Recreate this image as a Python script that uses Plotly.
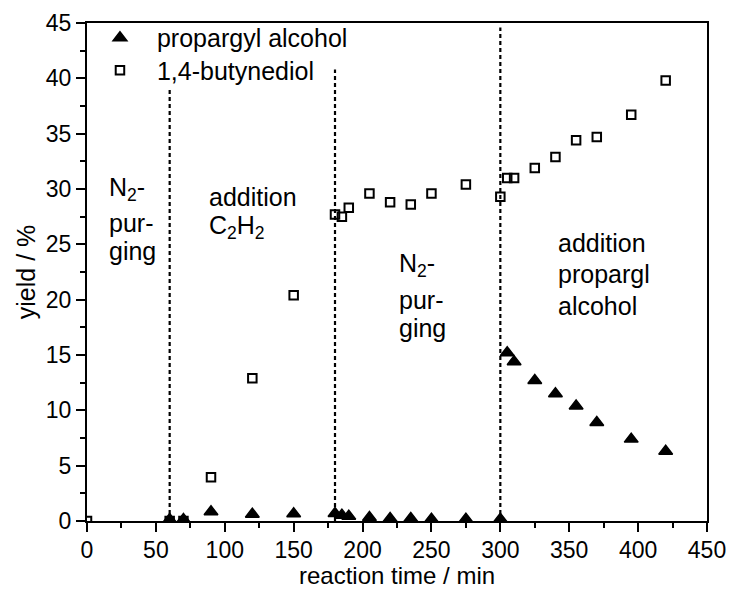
import plotly.graph_objects as go

# reaction time (min) and yields (%)
time_pa = [60, 70, 90, 120, 150, 180, 185, 190, 205, 220, 235, 250, 275, 300,
           305, 310, 325, 340, 355, 370, 395, 420]
yield_pa = [0.13, 0.13, 0.83, 0.62, 0.65, 0.68, 0.53, 0.44, 0.32, 0.23, 0.23, 0.17, 0.17, 0.17,
            15.2, 14.4, 12.7, 11.5, 10.4, 8.9, 7.4, 6.3]

time_bd = [0, 60, 70, 90, 120, 150, 180, 185, 190, 205, 220, 235, 250, 275, 300,
           305, 310, 325, 340, 355, 370, 395, 420]
yield_bd = [0, 0, 0, 3.95, 12.9, 20.4, 27.7, 27.5, 28.3, 29.6, 28.8, 28.6, 29.6, 30.4, 29.3,
            31.0, 31.0, 31.9, 32.9, 34.4, 34.7, 36.7, 39.8]

# phase boundaries (min) and how far up each marker line reaches (%)
phase_x = [60, 180, 300]
phase_top = [39.1, 40.8, 44.6]

# phase labels: x position (min), lines of text, y of each line (%)
phase_label_x = [14.5, 86.9, 224.7, 340.3]
phase_label_lines = [
    ["N<sub>2</sub>-", "pur-", "ging"],
    ["addition", "C<sub>2</sub>H<sub>2</sub>"],
    ["N<sub>2</sub>-", "pur-", "ging"],
    ["addition", "propargl", "alcohol"],
]
phase_label_y = [
    [30.0, 26.9, 24.4],
    [29.3, 26.6],
    [23.1, 20.0, 17.4],
    [25.1, 22.3, 19.4],
]

FONT = "Liberation Sans, Arial, sans-serif"
FS = 25
TICK_FS = 23
XTITLE_FS = 24

fig = go.Figure()
fig.add_trace(go.Scatter(
    x=time_pa, y=yield_pa, mode="markers", name="propargyl alcohol", legend="legend",
    marker=dict(symbol="triangle-up", size=12, color="black",
                line=dict(color="black", width=1.5)),
))
fig.add_trace(go.Scatter(
    x=time_bd, y=yield_bd, mode="markers", name="1,4-butynediol", legend="legend2",
    marker=dict(symbol="square-open", size=8.5, color="black",
                line=dict(color="black", width=2)),
))

for xv, top in zip(phase_x, phase_top):
    fig.add_shape(type="line", x0=xv, x1=xv, y0=0, y1=top, xref="x", yref="y",
                  line=dict(color="black", width=2.2, dash="4px,3px"), layer="below")

for xv, lines, ys in zip(phase_label_x, phase_label_lines, phase_label_y):
    for txt, yv in zip(lines, ys):
        fig.add_annotation(x=xv, y=yv, text=txt, showarrow=False, xanchor="left",
                           yanchor="middle", font=dict(family=FONT, size=FS, color="black"))

# x-axis title, resting on the bottom edge of the figure
fig.add_annotation(x=0.5, y=-70 / 498, xref="paper", yref="paper", text="reaction time / min",
                   showarrow=False, xanchor="center", yanchor="bottom",
                   font=dict(family=FONT, size=XTITLE_FS, color="black"))

axis_common = dict(
    showline=True, linecolor="black", linewidth=2, mirror=True,
    ticks="outside", ticklen=9, tickwidth=2, tickcolor="black",
    showgrid=False, zeroline=False, automargin=False,
    tickfont=dict(family=FONT, size=TICK_FS, color="black"),
)

fig.update_xaxes(
    range=[0, 450], dtick=50, tick0=0, ticklabelstandoff=-2,
    minor=dict(ticks="outside", ticklen=5, tickwidth=2, tickcolor="black", dtick=25, showgrid=False),
    **axis_common,
)
fig.update_yaxes(
    range=[0, 45], dtick=5, tick0=0,
    minor=dict(ticks="outside", ticklen=5, tickwidth=2, tickcolor="black", dtick=2.5, showgrid=False),
    title=dict(text="yield / %", font=dict(family=FONT, size=FS, color="black"), standoff=3),
    **axis_common,
)

legend_common = dict(
    xanchor="left", yanchor="middle", bgcolor="rgba(0,0,0,0)", borderwidth=0,
    font=dict(family=FONT, size=FS, color="black"), itemwidth=64,
)

fig.update_layout(
    width=731, height=591,
    margin=dict(l=87, r=24, t=23, b=70),
    plot_bgcolor="white", paper_bgcolor="white",
    font=dict(family=FONT, size=FS, color="black"),
    showlegend=True,
    legend=dict(x=-0.0065, y=0.970, **legend_common),
    legend2=dict(x=-0.0065, y=0.9046, **legend_common),
)

fig.write_html("out.html")
